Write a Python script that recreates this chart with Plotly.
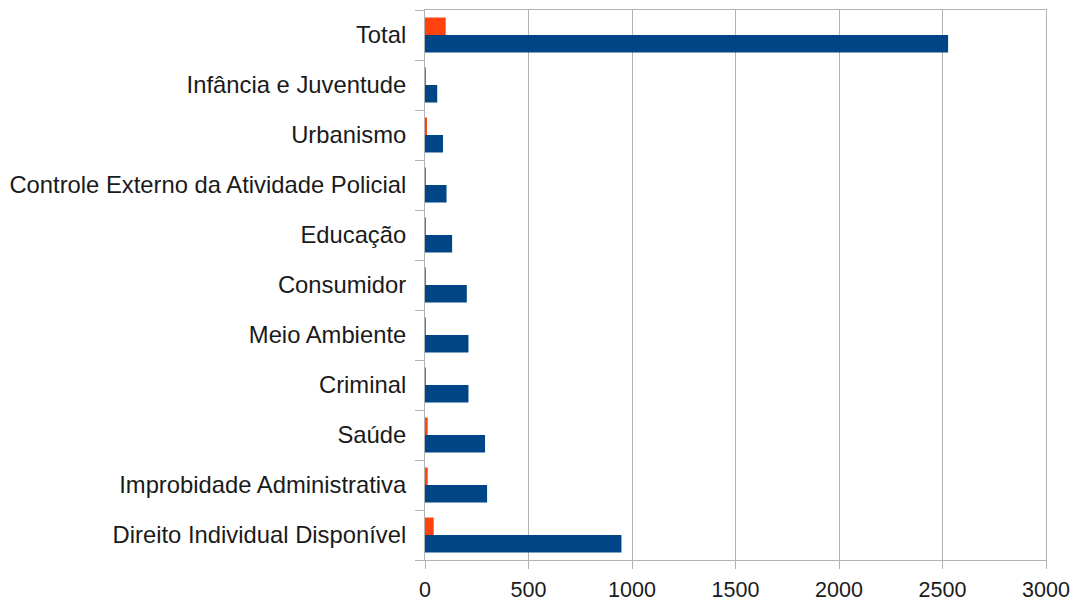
import plotly.graph_objects as go

# categories bottom -> top
categories = [
    "Direito Individual Disponível",
    "Improbidade Administrativa",
    "Saúde",
    "Criminal",
    "Meio Ambiente",
    "Consumidor",
    "Educação",
    "Controle Externo da Atividade Policial",
    "Urbanismo",
    "Infância e Juventude",
    "Total",
]
blue_values = [949, 300, 290, 210, 210, 202, 131, 104, 87, 59, 2527]
orange_values = [42, 13, 13, 4, 4, 4, 4, 4, 5, 4, 100]

x_ticks = [0, 500, 1000, 1500, 2000, 2500, 3000]

fig = go.Figure()

# blue first so it sits below the orange one in each group
fig.add_trace(
    go.Bar(
        y=categories,
        x=blue_values,
        orientation="h",
        marker=dict(color="#004586", line=dict(width=0)),
        name="blue",
    )
)
fig.add_trace(
    go.Bar(
        y=categories,
        x=orange_values,
        orientation="h",
        marker=dict(color="#ff420e", line=dict(width=0)),
        name="orange",
    )
)

# page body has an 8px margin, so the figure is a bit smaller than the window
fig.update_layout(
    width=1070,
    height=595,
    barmode="group",
    bargap=0.3,
    bargroupgap=0,
    showlegend=False,
    plot_bgcolor="white",
    paper_bgcolor="white",
    margin=dict(l=417, r=32, t=2, b=43, autoexpand=False),
    font=dict(family="Liberation Sans, Arial, sans-serif", size=23.8, color="#1a1a1a"),
)

fig.update_xaxes(
    range=[0, 3000],
    tickvals=x_ticks,
    showgrid=True,
    gridcolor="#b3b3b3",
    gridwidth=1,
    showline=True,
    linecolor="#b3b3b3",
    mirror=True,
    ticks="outside",
    ticklen=8,
    tickcolor="#b3b3b3",
    zeroline=False,
    ticklabelstandoff=2,
    tickfont=dict(size=21.5),
)
fig.update_yaxes(
    type="category",
    categoryorder="array",
    categoryarray=categories,
    tickson="boundaries",
    ticks="outside",
    ticklen=9,
    tickcolor="#b3b3b3",
    showline=True,
    linecolor="#b3b3b3",
    mirror=True,
    showgrid=False,
    ticklabelstandoff=13,
    tickfont=dict(size=23.8),
)

fig.write_html("out.html")
